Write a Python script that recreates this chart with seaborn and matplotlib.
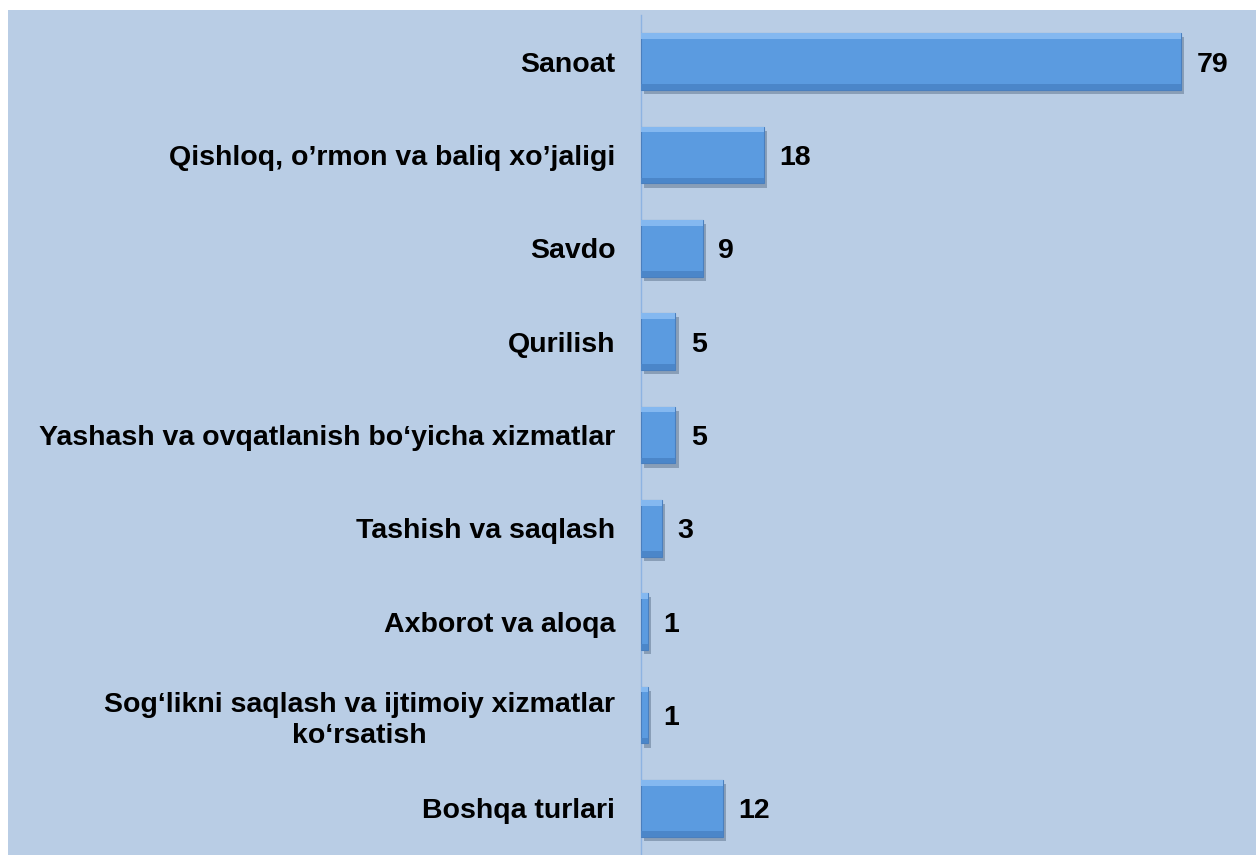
import seaborn as sns
import matplotlib.pyplot as plt
import matplotlib.patheffects as pe
from matplotlib.patches import Rectangle
import pandas as pd

categories = [
    'Sanoat',
    'Qishloq, o’rmon va baliq xo’jaligi',
    'Savdo',
    'Qurilish',
    'Yashash va ovqatlanish bo‘yicha xizmatlar',
    'Tashish va saqlash',
    'Axborot va aloqa',
    'Sog‘likni saqlash va ijtimoiy xizmatlar\nko‘rsatish',
    'Boshqa turlari',
]
values = [79, 18, 9, 5, 5, 3, 1, 1, 12]

df = pd.DataFrame({'sector': categories, 'value': values})

bg = '#b9cde5'
bar_col = '#5b9be0'

sns.set_style('white')
plt.rcParams['font.family'] = ['Liberation Sans', 'DejaVu Sans']

fig = plt.figure(figsize=(12.56, 8.55), dpi=100)
fig.patch.set_facecolor('white')
fig.patches.append(Rectangle((8 / 1256, 0), 1, 845 / 855, transform=fig.transFigure,
                             facecolor=bg, edgecolor='none', zorder=-10))

ax = fig.add_axes([641 / 1256, 0, 615 / 1256, 840 / 855])
ax.set_facecolor(bg)

sns.barplot(data=df, y='sector', x='value', orient='h', color=bar_col,
            width=0.61, saturation=1, ax=ax, zorder=3)

for p, v in zip(ax.patches, values):
    p.set_edgecolor('#4a7fbe')
    p.set_linewidth(0.8)
    p.set_path_effects([pe.SimplePatchShadow(offset=(2.5, -3), shadow_rgbFace='#6a7f99', alpha=0.6),
                        pe.Normal()])
    x0, y0 = p.get_x(), p.get_y()
    w, h = p.get_width(), p.get_height()
    # light bevel at the top, darker at the bottom
    ax.add_patch(Rectangle((x0, y0), w, h * 0.1, facecolor='#84b8f0', edgecolor='none', zorder=4))
    ax.add_patch(Rectangle((x0, y0 + h * 0.9), w, h * 0.1, facecolor='#4b86c9', edgecolor='none', zorder=4))
    ax.text(v + 2.3, y0 + h / 2, str(v), va='center_baseline', ha='left',
            fontsize=20.5, fontweight='bold', color='black')

ax.set_xlim(0, 90)
ax.set_ylim(8.5, -0.5)
ax.set_xlabel('')
ax.set_ylabel('')
ax.set_xticks([])
ax.tick_params(axis='y', length=0, pad=18.5, labelcolor='black')
for lbl in ax.get_yticklabels():
    lbl.set_fontsize(20.5)
    lbl.set_fontweight('bold')
    lbl.set_multialignment('center')
    lbl.set_linespacing(1.25)
    lbl.set_verticalalignment('center_baseline')
for s in ['top', 'right', 'bottom']:
    ax.spines[s].set_visible(False)
ax.spines['left'].set_color('#8db3e2')
ax.spines['left'].set_linewidth(1)

fig.savefig('out.png', dpi=100, facecolor=fig.get_facecolor())
